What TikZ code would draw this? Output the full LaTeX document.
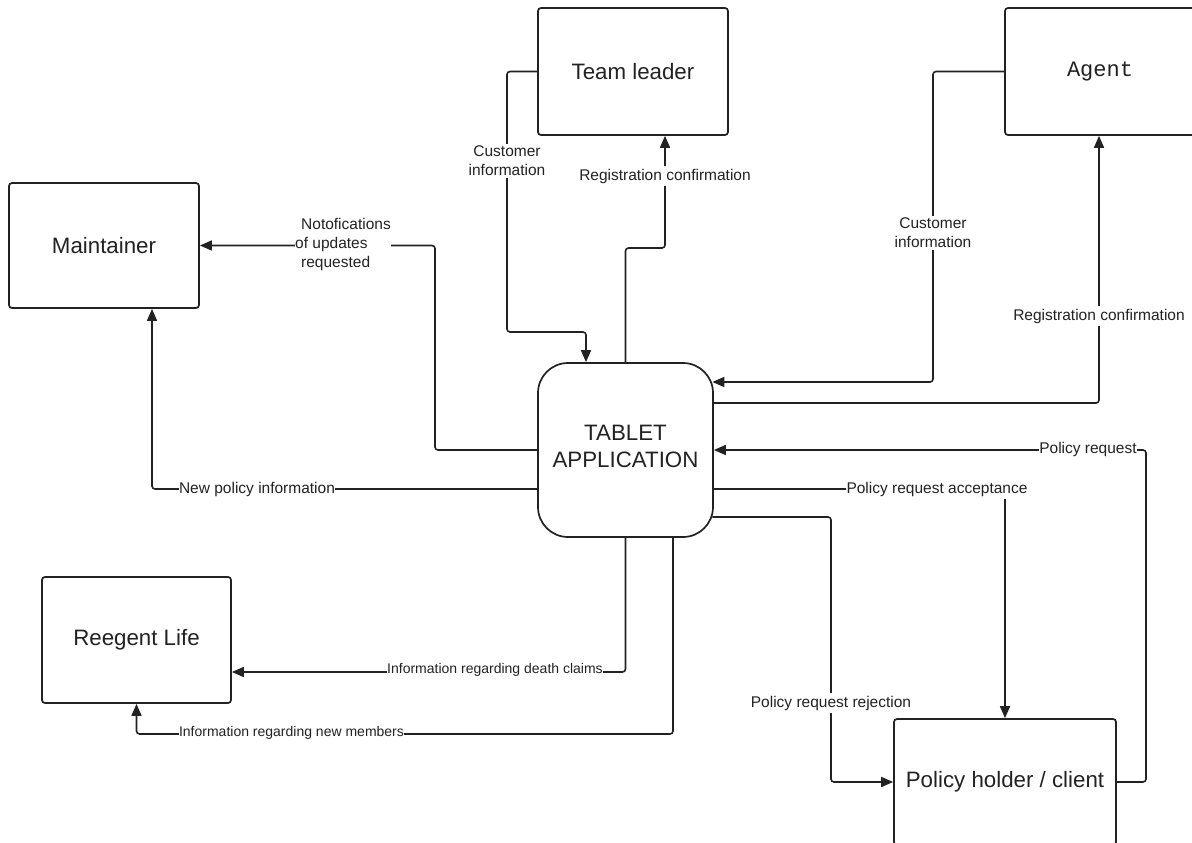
\documentclass[tikz,border=0pt]{standalone}
\usepackage{fontspec}
\setmainfont{Liberation Sans}
\newfontfamily\agentfont{Liberation Mono}
\usetikzlibrary{arrows.meta}
\definecolor{ink}{HTML}{222222}

\begin{document}
\begin{tikzpicture}[x=1pt,y=-1pt,
  entity/.style={draw=ink, line width=1.7pt, rounded corners=3pt, fill=white,
    text=ink, font=\fontsize{22.3}{27}\selectfont, inner sep=0pt,
    minimum width=190pt, minimum height=127pt},
  process/.style={entity, rounded corners=30pt, align=center,
    minimum width=175pt, minimum height=174pt},
  flow/.style={draw=ink, line width=1.6pt, rounded corners=3pt,
    -{Triangle[length=12pt,width=10pt]}},
  lbl/.style={fill=white, text=ink, font=\fontsize{15.5}{19}\selectfont,
    inner xsep=0.5pt, inner ysep=2.5pt, align=center},
  lblsm/.style={lbl, font=\fontsize{14}{17}\selectfont}
]
\useasboundingbox (0,0) rectangle (1192,843);
\clip (0,0) rectangle (1192,843);
\fill[white] (0,0) rectangle (1192,843);

% external entities and the central process
\node[entity] (tl) at (633,71.5) {Team leader};
\node[entity, font=\agentfont\fontsize{22}{26}\selectfont] (ag) at (1100,71.5) {Agent};
\node[entity, minimum height=125pt] (mt) at (104,245.5) {Maintainer};
\node[entity, minimum width=189pt, minimum height=126pt] (rl) at (136.5,640) {Reegent Life};
\node[entity, minimum width=222pt, minimum height=126pt] (ph) at (1005,782) {Policy holder / client};
\node[process] (tab) at (625.5,450) {TABLET\\APPLICATION\rule[-7pt]{0pt}{7pt}};

% data flows
\draw[flow] (tl.west) -| (507,332) -| (tab.north -| 586,0);
\draw[flow] (tab.north) |- (665,248) -- (tl.south -| 665,0);
\draw[flow] (ag.west) -| (933,382) -- ([xshift=-1.5pt]tab.east |- 0,382);
\draw[flow] (tab.east |- 0,403) -| (ag.south -| 1099,0);
\draw[flow] (tab.west) -| (435,0 |- mt.east) -- (mt.east);
\draw[flow] (tab.west |- 0,489) -| (mt.south -| 152,0);
\draw[flow] (ph.east) -| (1146,450) -- (tab.east);
\draw[flow] (tab.east |- 0,489) -| (ph.north);
\draw[flow] ([xshift=-1.5pt]tab.east |- 0,517) -| (831,0 |- ph.west) -- (ph.west);
\draw[flow] (tab.south) |- (rl.east |- 0,672);
\draw[flow] (tab.south -| 673,0) |- (rl.south |- 0,734) -- (rl.south);

% flow labels
\node[lbl] (tlinfo) at (507,161) {Customer\\information};
\node[lbl] (tlconf) at (665,176) {Registration confirmation};
\node[lbl] (aginfo) at (933,233) {Customer\\information};
\node[lbl] (agconf) at (1099,316) {Registration confirmation};
\node[lbl, align=left, anchor=west, inner xsep=0pt] (notif) at (295,244)
  {\hspace{6pt}Notofications\\of updates\\\hspace{6pt}requested};
\node[lbl] (newpol) at (257,489) {New policy information};
\node[lbl] (preq) at (1088,449) {Policy request};
\node[lbl] (pacc) at (937,489) {Policy request acceptance};
\node[lbl] (prej) at (831,703) {Policy request rejection};
\node[lblsm] (death) at (495,670) {Information regarding death claims};
\node[lblsm] (members) at (291.5,733) {Information regarding new members};
\end{tikzpicture}
\end{document}
